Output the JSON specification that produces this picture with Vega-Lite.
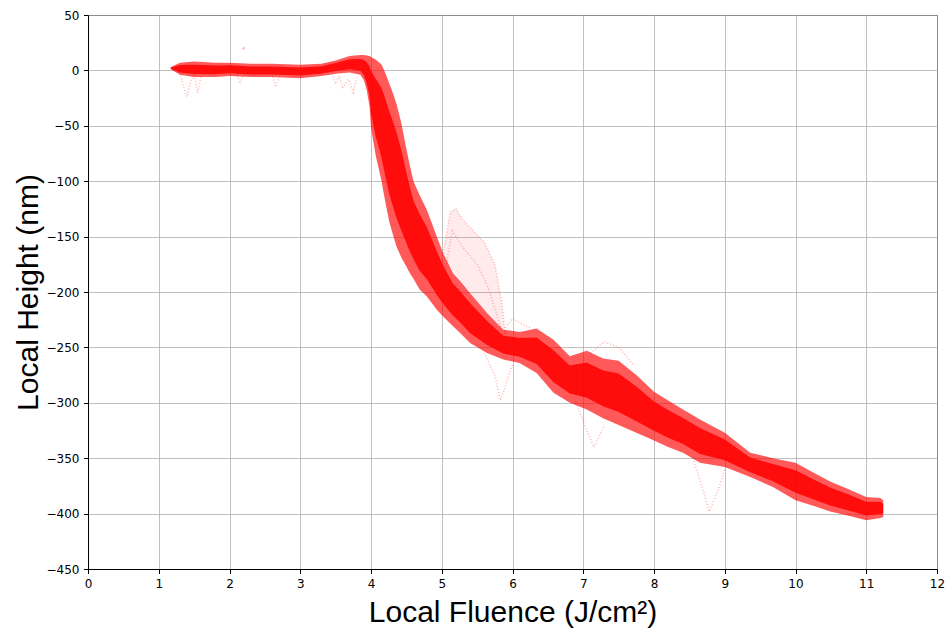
{
  "$schema": "https://vega.github.io/schema/vega-lite/v6.json",
  "width": 849,
  "height": 554,
  "autosize": {"type": "none"},
  "padding": {"left": 88, "top": 15, "right": 11, "bottom": 61},
  "background": "white",
  "config": {
    "view": {"stroke": "black", "strokeWidth": 1},
    "axis": {
      "domainColor": "black", "domainWidth": 1,
      "tickColor": "black", "tickSize": 4.5, "tickWidth": 1,
      "labelFont": "DejaVu Sans", "labelFontSize": 12, "labelColor": "black", "labelPadding": 4.5,
      "labelFlush": false, "labelOverlap": false,
      "gridColor": "#b0b0b0", "gridWidth": 0.8,
      "titleFont": "Liberation Sans", "titleFontSize": 30, "titleFontWeight": "normal", "titleColor": "black"
    }
  },
  "datasets": {
    "band": [
      {"x": 1.17, "hi": 3, "lo": 1, "ihi": 2.6, "ilo": 1.4},
      {"x": 1.3, "hi": 7, "lo": -4, "ihi": 4.8, "ilo": -1.8},
      {"x": 1.5, "hi": 8, "lo": -6, "ihi": 5.2, "ilo": -3.2},
      {"x": 1.8, "hi": 7, "lo": -6, "ihi": 4.4, "ilo": -3.4},
      {"x": 2.0, "hi": 7, "lo": -5, "ihi": 4.6, "ilo": -2.6},
      {"x": 2.3, "hi": 6, "lo": -6, "ihi": 3.6, "ilo": -3.6},
      {"x": 2.6, "hi": 6, "lo": -6, "ihi": 3.6, "ilo": -3.6},
      {"x": 3.0, "hi": 5, "lo": -7, "ihi": 2.6, "ilo": -4.6},
      {"x": 3.3, "hi": 6, "lo": -5, "ihi": 3.8, "ilo": -2.8},
      {"x": 3.5, "hi": 9, "lo": -3, "ihi": 6.6, "ilo": -0.6},
      {"x": 3.7, "hi": 13, "lo": -2, "ihi": 10, "ilo": 1},
      {"x": 3.85, "hi": 14, "lo": -4, "ihi": 10.4, "ilo": -0.4},
      {"x": 3.9, "hi": 14, "lo": -9, "ihi": 9.4, "ilo": -4.4},
      {"x": 3.94, "hi": 13.5, "lo": -18, "ihi": 7.2, "ilo": -11.7},
      {"x": 3.98, "hi": 13, "lo": -33, "ihi": 3.8, "ilo": -23.8},
      {"x": 4.0, "hi": 12, "lo": -51, "ihi": -0.6, "ilo": -38.4},
      {"x": 4.03, "hi": 11, "lo": -63, "ihi": -3.8, "ilo": -48.2},
      {"x": 4.07, "hi": 9.5, "lo": -78, "ihi": -8, "ilo": -60.5},
      {"x": 4.1, "hi": 8, "lo": -86, "ihi": -10.8, "ilo": -67.2},
      {"x": 4.15, "hi": 5, "lo": -100, "ihi": -16, "ilo": -79},
      {"x": 4.2, "hi": -2, "lo": -118, "ihi": -25.2, "ilo": -94.8},
      {"x": 4.26, "hi": -12, "lo": -137, "ihi": -37, "ilo": -112},
      {"x": 4.3, "hi": -19, "lo": -146, "ihi": -44.4, "ilo": -120.6},
      {"x": 4.36, "hi": -30, "lo": -159, "ihi": -55.8, "ilo": -133.2},
      {"x": 4.43, "hi": -48, "lo": -169, "ihi": -72.2, "ilo": -144.8},
      {"x": 4.5, "hi": -71, "lo": -177, "ihi": -92.2, "ilo": -155.8},
      {"x": 4.55, "hi": -86, "lo": -183, "ihi": -105.4, "ilo": -163.6},
      {"x": 4.6, "hi": -100, "lo": -188, "ihi": -117.6, "ilo": -170.4},
      {"x": 4.69, "hi": -113, "lo": -198, "ihi": -130, "ilo": -181},
      {"x": 4.79, "hi": -126, "lo": -204, "ihi": -141.6, "ilo": -188.4},
      {"x": 4.93, "hi": -150, "lo": -216, "ihi": -163.2, "ilo": -202.8},
      {"x": 5.02, "hi": -165, "lo": -222, "ihi": -176.4, "ilo": -210.6},
      {"x": 5.16, "hi": -183, "lo": -231, "ihi": -192.6, "ilo": -221.4},
      {"x": 5.26, "hi": -190, "lo": -237, "ihi": -199.4, "ilo": -227.6},
      {"x": 5.4, "hi": -201, "lo": -246, "ihi": -210, "ilo": -237},
      {"x": 5.64, "hi": -219, "lo": -255, "ihi": -226.2, "ilo": -247.8},
      {"x": 5.87, "hi": -234, "lo": -261, "ihi": -239.4, "ilo": -255.6},
      {"x": 6.1, "hi": -236, "lo": -264, "ihi": -241.6, "ilo": -258.4},
      {"x": 6.34, "hi": -233, "lo": -273, "ihi": -241, "ilo": -265},
      {"x": 6.58, "hi": -243, "lo": -291, "ihi": -252.6, "ilo": -281.4},
      {"x": 6.81, "hi": -258, "lo": -300, "ihi": -266.4, "ilo": -291.6},
      {"x": 7.05, "hi": -253, "lo": -306, "ihi": -263.6, "ilo": -295.4},
      {"x": 7.28, "hi": -260, "lo": -314, "ihi": -270.8, "ilo": -303.2},
      {"x": 7.5, "hi": -262, "lo": -320, "ihi": -273.6, "ilo": -308.4},
      {"x": 7.75, "hi": -275, "lo": -327, "ihi": -285.4, "ilo": -316.6},
      {"x": 8.0, "hi": -290, "lo": -334, "ihi": -298.8, "ilo": -325.2},
      {"x": 8.2, "hi": -298, "lo": -340, "ihi": -306.4, "ilo": -331.6},
      {"x": 8.41, "hi": -306, "lo": -345, "ihi": -313.8, "ilo": -337.2},
      {"x": 8.65, "hi": -315, "lo": -354, "ihi": -322.8, "ilo": -346.2},
      {"x": 9.0, "hi": -327, "lo": -358, "ihi": -333.2, "ilo": -351.8},
      {"x": 9.36, "hi": -345, "lo": -367, "ihi": -349.4, "ilo": -362.6},
      {"x": 9.68, "hi": -350, "lo": -376, "ihi": -355.2, "ilo": -370.8},
      {"x": 10.0, "hi": -354, "lo": -388, "ihi": -360.8, "ilo": -381.2},
      {"x": 10.25, "hi": -363, "lo": -393, "ihi": -369, "ilo": -387},
      {"x": 10.49, "hi": -371, "lo": -398, "ihi": -376.4, "ilo": -392.6},
      {"x": 10.75, "hi": -378, "lo": -402, "ihi": -382.8, "ilo": -397.2},
      {"x": 11.0, "hi": -385, "lo": -406, "ihi": -389.2, "ilo": -401.8},
      {"x": 11.2, "hi": -386, "lo": -404, "ihi": -389.6, "ilo": -400.4},
      {"x": 11.24, "hi": -388, "lo": -403, "ihi": -391, "ilo": -400}
    ],
    "cloud": [
      {"x": 5.02, "hi": -165, "lo": -165},
      {"x": 5.12, "hi": -128, "lo": -178},
      {"x": 5.2, "hi": -125, "lo": -185},
      {"x": 5.3, "hi": -135, "lo": -192},
      {"x": 5.45, "hi": -145, "lo": -204},
      {"x": 5.6, "hi": -155, "lo": -216},
      {"x": 5.75, "hi": -175, "lo": -226},
      {"x": 5.85, "hi": -210, "lo": -233},
      {"x": 5.9, "hi": -240, "lo": -240}
    ],
    "outliers": [
      {"s": "a", "x": 5.02, "y": -165}, {"s": "a", "x": 5.12, "y": -128}, {"s": "a", "x": 5.2, "y": -125}, {"s": "a", "x": 5.3, "y": -135}, {"s": "a", "x": 5.45, "y": -145}, {"s": "a", "x": 5.6, "y": -155}, {"s": "a", "x": 5.75, "y": -175}, {"s": "a", "x": 5.85, "y": -210}, {"s": "a", "x": 5.9, "y": -240},
      {"s": "b", "x": 5.05, "y": -180}, {"s": "b", "x": 5.15, "y": -145}, {"s": "b", "x": 5.3, "y": -160}, {"s": "b", "x": 5.5, "y": -175}, {"s": "b", "x": 5.65, "y": -195}, {"s": "b", "x": 5.8, "y": -225}, {"s": "b", "x": 5.9, "y": -245},
      {"s": "c", "x": 5.6, "y": -255}, {"s": "c", "x": 5.75, "y": -275}, {"s": "c", "x": 5.83, "y": -298}, {"s": "c", "x": 5.9, "y": -285}, {"s": "c", "x": 6.0, "y": -265},
      {"s": "d", "x": 5.9, "y": -232}, {"s": "d", "x": 6.0, "y": -224}, {"s": "d", "x": 6.1, "y": -228}, {"s": "d", "x": 6.25, "y": -232},
      {"s": "e", "x": 6.9, "y": -300}, {"s": "e", "x": 7.05, "y": -325}, {"s": "e", "x": 7.15, "y": -340}, {"s": "e", "x": 7.3, "y": -320},
      {"s": "f", "x": 8.55, "y": -350}, {"s": "f", "x": 8.7, "y": -380}, {"s": "f", "x": 8.78, "y": -398}, {"s": "f", "x": 8.9, "y": -380}, {"s": "f", "x": 9.0, "y": -360},
      {"s": "g", "x": 7.1, "y": -255}, {"s": "g", "x": 7.3, "y": -245}, {"s": "g", "x": 7.5, "y": -250}, {"s": "g", "x": 7.7, "y": -265},
      {"s": "h", "x": 1.3, "y": -2}, {"s": "h", "x": 1.35, "y": -15}, {"s": "h", "x": 1.4, "y": -24}, {"s": "h", "x": 1.45, "y": -10}, {"s": "h", "x": 1.5, "y": -3}, {"s": "h", "x": 1.55, "y": -20}, {"s": "h", "x": 1.6, "y": -5},
      {"s": "i", "x": 2.1, "y": -2}, {"s": "i", "x": 2.15, "y": -12}, {"s": "i", "x": 2.2, "y": -3},
      {"s": "j", "x": 2.6, "y": -3}, {"s": "j", "x": 2.65, "y": -15}, {"s": "j", "x": 2.72, "y": -4},
      {"s": "k", "x": 3.45, "y": -3}, {"s": "k", "x": 3.5, "y": -12}, {"s": "k", "x": 3.55, "y": -5}, {"s": "k", "x": 3.6, "y": -15}, {"s": "k", "x": 3.68, "y": -8}, {"s": "k", "x": 3.75, "y": -20}, {"s": "k", "x": 3.8, "y": -6}
    ],
    "single": [{"x": 2.2, "y": 20}]
  },
  "encoding": {
    "x": {
      "field": "x", "type": "quantitative",
      "scale": {"domain": [0, 12], "nice": false, "zero": false},
      "axis": {"values": [0,1,2,3,4,5,6,7,8,9,10,11,12], "title": "Local Fluence (J/cm²)", "titlePadding": 8, "format": "d"}
    }
  },
  "layer": [
    {
      "data": {"name": "cloud"},
      "mark": {"type": "area", "color": "#ff0000", "opacity": 0.08},
      "encoding": {
        "y": {"field": "hi", "type": "quantitative",
          "scale": {"domain": [-450, 50], "nice": false, "zero": false},
          "axis": {"values": [-450,-400,-350,-300,-250,-200,-150,-100,-50,0,50], "title": "Local Height (nm)", "titlePadding": 3}},
        "y2": {"field": "lo"}
      }
    },
    {
      "data": {"name": "band"},
      "mark": {"type": "area", "color": "#ff0000", "opacity": 0.65},
      "encoding": {
        "y": {"field": "hi", "type": "quantitative"},
        "y2": {"field": "lo"}
      }
    },
    {
      "data": {"name": "band"},
      "mark": {"type": "area", "color": "#ff0000", "opacity": 0.85},
      "encoding": {
        "y": {"field": "ihi", "type": "quantitative"},
        "y2": {"field": "ilo"}
      }
    },
    {
      "data": {"name": "outliers"},
      "mark": {"type": "line", "color": "#ff0000", "opacity": 0.3, "strokeWidth": 1.5, "strokeDash": [1, 2]},
      "encoding": {
        "y": {"field": "y", "type": "quantitative"},
        "detail": {"field": "s", "type": "nominal"}
      }
    },
    {
      "data": {"name": "single"},
      "mark": {"type": "point", "color": "#ff0000", "opacity": 0.3, "size": 6, "filled": true},
      "encoding": {
        "y": {"field": "y", "type": "quantitative"}
      }
    }
  ]
}
